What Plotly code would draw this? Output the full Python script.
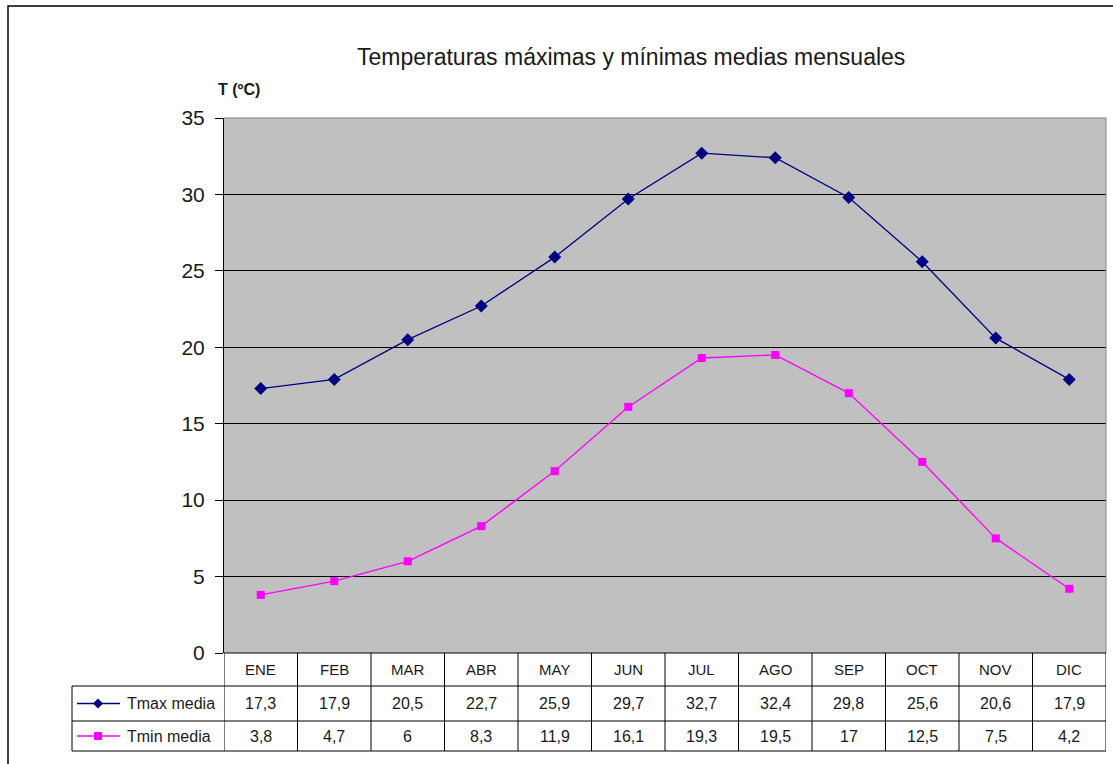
import plotly.graph_objects as go

months = ["ENE", "FEB", "MAR", "ABR", "MAY", "JUN", "JUL", "AGO", "SEP", "OCT", "NOV", "DIC"]
tmax = [17.3, 17.9, 20.5, 22.7, 25.9, 29.7, 32.7, 32.4, 29.8, 25.6, 20.6, 17.9]
tmin = [3.8, 4.7, 6, 8.3, 11.9, 16.1, 19.3, 19.5, 17, 12.5, 7.5, 4.2]
series_names = ["Tmax media", "Tmin media"]
y_ticks = [0, 5, 10, 15, 20, 25, 30, 35]

W, H = 1113, 764
L, R, T, B = 224, 1106, 118, 653
FONT = "Arial, Liberation Sans, sans-serif"
NAVY = "#000080"
MAG = "#ff00ff"
TXT = "#1a1a1a"

def px(xp):
    return (xp - L) / (R - L)

def py(yp):
    return (B - yp) / (B - T)

def fmt(v):
    return f"{v:g}".replace(".", ",")

xs = list(range(len(months)))

fig = go.Figure()
fig.add_trace(go.Scatter(x=xs, y=tmax, mode="lines+markers", name=series_names[0],
                         line=dict(color=NAVY, width=1.3),
                         marker=dict(symbol="diamond", size=10, color=NAVY)))
fig.add_trace(go.Scatter(x=xs, y=tmin, mode="lines+markers", name=series_names[1],
                         line=dict(color=MAG, width=1.3),
                         marker=dict(symbol="square", size=8, color=MAG)))

shapes = []
ann = []
line_k = dict(color="black", width=1)

# outer frame (left & top visible)
shapes.append(dict(type="rect", xref="paper", yref="paper", x0=px(8), x1=px(1125),
                   y0=py(780), y1=py(6), line=dict(color="black", width=1.5), layer="below"))

# plot border top/right gray
shapes.append(dict(type="line", xref="paper", yref="paper", x0=0, x1=1, y0=1, y1=1,
                   line=dict(color="#808080", width=1)))
shapes.append(dict(type="line", xref="paper", yref="paper", x0=1, x1=1, y0=0, y1=1,
                   line=dict(color="#808080", width=1)))

# table rows
row_y = [653, 686, 721, 751]
shapes.append(dict(type="line", xref="paper", yref="paper", x0=0, x1=1, y0=py(653), y1=py(653), line=line_k))
for yy in row_y[1:]:
    shapes.append(dict(type="line", xref="paper", yref="paper", x0=px(72), x1=1, y0=py(yy), y1=py(yy), line=line_k))
for k in range(len(months) + 1):
    shapes.append(dict(type="line", xref="x", yref="paper", x0=k - 0.5, x1=k - 0.5,
                       y0=py(751), y1=py(653), line=line_k))
shapes.append(dict(type="line", xref="paper", yref="paper", x0=px(72), x1=px(72),
                   y0=py(751), y1=py(686), line=line_k))

row_c = [(row_y[i] + row_y[i + 1]) / 2 for i in range(3)]
for i, m in enumerate(months):
    ann.append(dict(x=i, y=py(row_c[0]), xref="x", yref="paper", text=m, showarrow=False,
                    xanchor="center", yanchor="middle",
                    font=dict(size=15, color=TXT, family=FONT)))
    ann.append(dict(x=i, y=py(row_c[1]), xref="x", yref="paper", text=fmt(tmax[i]), showarrow=False,
                    xanchor="center", yanchor="middle",
                    font=dict(size=16, color=TXT, family=FONT)))
    ann.append(dict(x=i, y=py(row_c[2]), xref="x", yref="paper", text=fmt(tmin[i]), showarrow=False,
                    xanchor="center", yanchor="middle",
                    font=dict(size=16, color=TXT, family=FONT)))

# legend keys in table
diamond = "M 0 -5 L 5 0 L 0 5 L -5 0 Z"
square = "M -4 -4 L 4 -4 L 4 4 L -4 4 Z"
for r, (name, col, path) in enumerate([(series_names[0], NAVY, diamond), (series_names[1], MAG, square)]):
    yc = py(row_c[r + 1])
    shapes.append(dict(type="line", xref="paper", yref="paper", x0=px(77), x1=px(120), y0=yc, y1=yc,
                       line=dict(color=col, width=1.3)))
    shapes.append(dict(type="path", xref="paper", yref="paper", xsizemode="pixel", ysizemode="pixel",
                       xanchor=px(98), yanchor=yc, path=path, fillcolor=col, line=dict(color=col, width=0)))
    ann.append(dict(x=px(125), y=yc, xref="paper", yref="paper", text=name, showarrow=False,
                    xanchor="left", yanchor="middle", font=dict(size=16, color=TXT, family=FONT)))

ann.append(dict(x=px(631), y=py(57), xref="paper", yref="paper",
                text="Temperaturas máximas y mínimas medias mensuales",
                showarrow=False, xanchor="center", yanchor="middle",
                font=dict(size=23, color=TXT, family=FONT)))
ann.append(dict(x=px(216), y=py(89), xref="paper", yref="paper", text="<b>T (ºC)</b>",
                xanchor="left", yanchor="middle",
                showarrow=False, font=dict(size=16, color=TXT, family=FONT)))

fig.update_layout(
    width=W, height=H,
    margin=dict(l=L, r=W - R, t=T, b=H - B),
    paper_bgcolor="white", plot_bgcolor="#c0c0c0",
    showlegend=False,
    font=dict(family=FONT, color=TXT),
    xaxis=dict(range=[-0.5, len(months) - 0.5], showgrid=False, zeroline=False, showticklabels=False,
               ticks="", showline=False, fixedrange=True),
    yaxis=dict(range=[0, 35], tickvals=y_ticks, showgrid=True, gridcolor="black", gridwidth=1,
               zeroline=False, showline=True, linecolor="black", linewidth=1,
               ticks="outside", ticklen=8, tickcolor="black",
               tickfont=dict(size=21, color=TXT, family=FONT),
               ticklabelstandoff=6, fixedrange=True),
    shapes=shapes, annotations=ann,
)

fig.write_html("out.html", config={"displayModeBar": False},
               post_script="document.body.style.margin='0';")
